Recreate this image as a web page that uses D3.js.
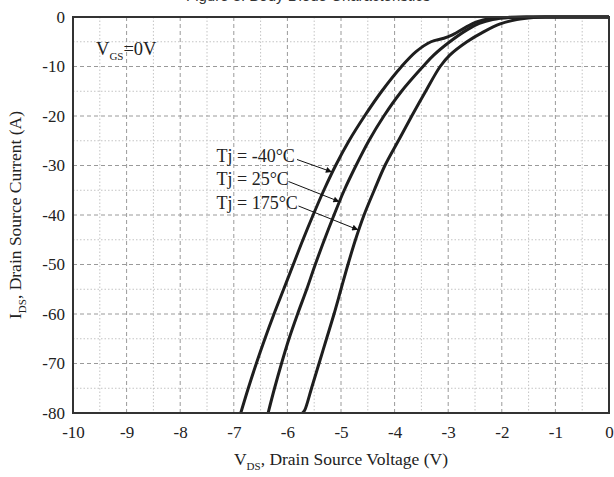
<!DOCTYPE html>
<html><head><meta charset="utf-8">
<script src="https://cdn.jsdelivr.net/npm/d3@7"></script>
<style>html,body{margin:0;padding:0;background:#fff;}svg{display:block;}</style>
</head><body><svg id="c" width="614" height="477"></svg>
<script>
// Data: [V_DS (V), I_DS (A)]
const curveNeg40 = [[-6.87,-80],[-6.73,-75],[-6.58,-70],[-6.42,-65],[-6.25,-60],[-6.07,-55],[-5.89,-50],[-5.71,-45],[-5.52,-40],[-5.32,-35],[-5.10,-30],[-4.85,-25],[-4.56,-20],[-4.24,-15],[-3.87,-10],[-3.60,-7],[-3.32,-5.0],[-3.08,-4.3],[-2.92,-3.6],[-2.66,-2.0],[-2.47,-1.0],[-2.22,-0.3],[-1.9,-0.08],[-1.5,0],[0,0]];
const curve25 = [[-6.36,-80],[-6.24,-75],[-6.11,-70],[-5.97,-65],[-5.81,-60],[-5.64,-55],[-5.48,-50],[-5.31,-45],[-5.13,-40],[-4.94,-35],[-4.72,-30],[-4.48,-25],[-4.20,-20],[-3.87,-15],[-3.47,-10],[-3.27,-7.7],[-2.97,-5.0],[-2.65,-2.6],[-2.42,-1.3],[-2.17,-0.5],[-1.85,-0.1],[-1.4,0],[0,0]];
const curve175 = [[-5.72,-80],[-5.68,-79.5],[-5.63,-78],[-5.55,-75],[-5.41,-70],[-5.27,-65],[-5.13,-60],[-5.00,-55],[-4.87,-50],[-4.73,-45],[-4.57,-40],[-4.38,-35],[-4.18,-30],[-3.93,-25],[-3.68,-20],[-3.42,-15],[-3.15,-10],[-2.97,-7.7],[-2.65,-5.0],[-2.34,-3.0],[-2.03,-1.4],[-1.72,-0.5],[-1.41,-0.1],[-1.15,0],[0,0]];
const xTicks = [-10,-9,-8,-7,-6,-5,-4,-3,-2,-1,0];
const yTicks = [0,-10,-20,-30,-40,-50,-60,-70,-80];
const labels = ["Tj = -40°C","Tj = 25°C","Tj = 175°C"];
const arrowTargets = [[-5.17,-31.3],[-5.03,-37.3],[-4.68,-43.0]];

const svg = d3.select("#c");
const L=73, R=609, T=17, B=413;
const x = d3.scaleLinear().domain([-10,0]).range([L,R]);
const y = d3.scaleLinear().domain([-80,0]).range([B,T]);
const serif = "Liberation Serif, Times New Roman, serif";

// Title fragment (cut off at top edge, as in the reference)
svg.append("text").attr("x",186).attr("y",1).attr("font-family","Liberation Sans, Arial, sans-serif")
  .attr("font-size",15).attr("fill","#333").text("Figure 8. Body Diode Characteristics");

// minor grid
const minorX = d3.range(-9.5,0,1), minorY = d3.range(-75,0,10);
const g = svg.append("g");
g.selectAll(".mx").data(minorX).join("line").attr("x1",d=>x(d)).attr("x2",d=>x(d)).attr("y1",T).attr("y2",B)
  .attr("stroke","#c4c4c4").attr("stroke-width",1).attr("stroke-dasharray","1.5,2");
g.selectAll(".my").data(minorY).join("line").attr("y1",d=>y(d)).attr("y2",d=>y(d)).attr("x1",L).attr("x2",R)
  .attr("stroke","#c4c4c4").attr("stroke-width",1).attr("stroke-dasharray","1.5,2");
// major grid
g.selectAll(".Mx").data(xTicks.slice(1,-1)).join("line").attr("x1",d=>x(d)).attr("x2",d=>x(d)).attr("y1",T).attr("y2",B)
  .attr("stroke","#9a9a9a").attr("stroke-width",1).attr("stroke-dasharray","4,3");
g.selectAll(".My").data(yTicks.slice(1,-1)).join("line").attr("y1",d=>y(d)).attr("y2",d=>y(d)).attr("x1",L).attr("x2",R)
  .attr("stroke","#9a9a9a").attr("stroke-width",1).attr("stroke-dasharray","4,3");

// axes
const fmt = d => String(d);
const xa = svg.append("g").attr("transform",`translate(0,${B})`).call(d3.axisBottom(x).tickValues(xTicks).tickSize(0).tickPadding(13).tickFormat(fmt));
const ya = svg.append("g").attr("transform",`translate(${L},0)`).call(d3.axisLeft(y).tickValues(yTicks).tickSize(0).tickPadding(8).tickFormat(fmt));
[xa,ya].forEach(a=>{a.attr("font-family",serif).attr("font-size",17);a.select(".domain").remove();a.selectAll("text").attr("fill","#222");});

// curves
svg.append("clipPath").attr("id","pc").append("rect").attr("x",L).attr("y",T-2).attr("width",R-L).attr("height",B-T+2);
const line = d3.line().x(d=>x(d[0])).y(d=>y(d[1])).curve(d3.curveCatmullRom.alpha(0.5));
svg.append("g").attr("clip-path","url(#pc)").selectAll("path").data([curveNeg40,curve25,curve175]).join("path")
  .attr("d",line).attr("fill","none").attr("stroke","#1e1e1e").attr("stroke-width",3).attr("stroke-linejoin","round");

// frame
svg.append("rect").attr("x",L).attr("y",T).attr("width",R-L).attr("height",B-T).attr("fill","none").attr("stroke","#333").attr("stroke-width",2);

// labels + arrows
svg.append("defs").append("marker").attr("id","ah").attr("viewBox","0 0 10 10").attr("refX",10).attr("refY",5)
  .attr("markerWidth",9).attr("markerHeight",6).attr("markerUnits","userSpaceOnUse").attr("orient","auto")
  .append("path").attr("d","M0,0L10,5L0,10Z").attr("fill","#111");
const labY = [161.5,185,208.5];
const arrowStart = [[297,159.5],[288.5,181.5],[298.5,206]];
labels.forEach((t,i)=>{
  svg.append("text").attr("x",216.5).attr("y",labY[i]).attr("font-family",serif).attr("font-size",18).attr("fill","#222").text(t);
  svg.append("line").attr("x1",arrowStart[i][0]).attr("y1",arrowStart[i][1]).attr("x2",x(arrowTargets[i][0])).attr("y2",y(arrowTargets[i][1]))
    .attr("stroke","#111").attr("stroke-width",1).attr("marker-end","url(#ah)");
});

// VGS label
const vg = svg.append("text").attr("x",96).attr("y",54.5).attr("font-family",serif).attr("font-size",18.5).attr("fill","#222");
vg.append("tspan").text("V");
vg.append("tspan").attr("dy",5).attr("font-size",11).text("GS");
vg.append("tspan").attr("dy",-5).text("=0V");

// x axis title
const xt = svg.append("text").attr("x",341).attr("y",465).attr("text-anchor","middle").attr("font-family",serif).attr("font-size",17.5).attr("fill","#222");
xt.append("tspan").text("V");
xt.append("tspan").attr("dy",5).attr("font-size",11).text("DS");
xt.append("tspan").attr("dy",-5).text(", Drain Source Voltage (V)");

// y axis title
const yt = svg.append("text").attr("transform",`translate(21,${(T+B)/2}) rotate(-90)`).attr("text-anchor","middle").attr("font-family",serif).attr("font-size",17.5).attr("fill","#222");
yt.append("tspan").text("I");
yt.append("tspan").attr("dy",5).attr("font-size",11).text("DS");
yt.append("tspan").attr("dy",-5).text(", Drain Source Current (A)");
</script></body></html>
